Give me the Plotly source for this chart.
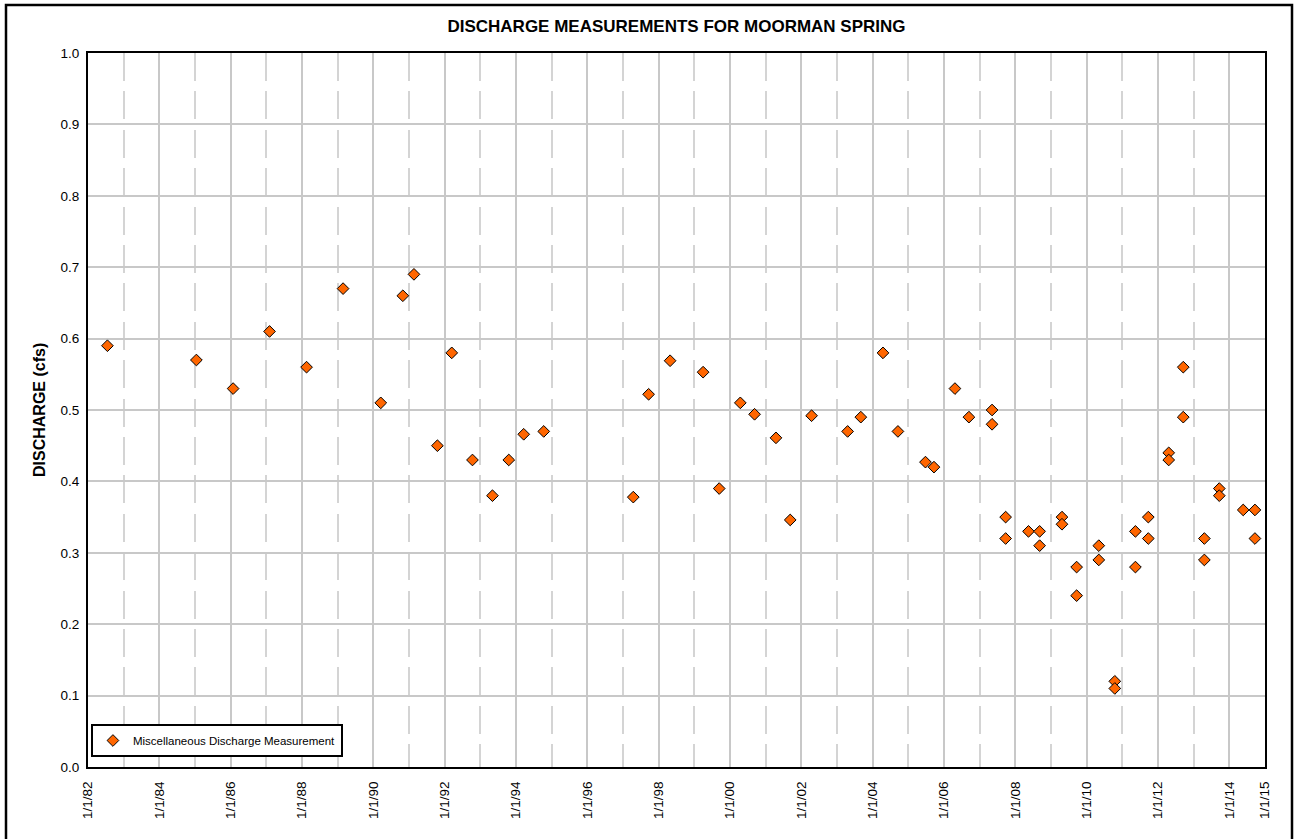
import plotly.graph_objects as go

# Miscellaneous discharge measurements, Moorman Spring
dates = [
    "1982-07-19", "1985-01-15", "1986-01-26", "1987-02-03", "1988-02-17",
    "1989-02-25", "1990-03-18", "1990-10-30", "1991-02-21", "1991-10-19",
    "1992-03-14", "1992-10-12", "1993-05-05", "1993-10-19", "1994-03-21",
    "1994-10-12", "1997-04-16", "1997-09-20", "1998-04-28", "1999-04-01",
    "1999-09-13", "2000-04-16", "2000-09-09", "2001-04-16", "2001-09-09",
    "2002-04-16", "2003-04-20", "2003-09-02", "2004-04-16", "2004-09-16",
    "2005-06-25", "2005-09-20", "2006-04-23", "2006-09-13", "2007-05-08",
    "2007-05-08", "2007-09-24", "2007-09-24", "2008-05-15", "2008-09-06",
    "2008-09-06", "2009-04-23", "2009-04-23", "2009-09-20", "2009-09-20",
    "2010-05-05", "2010-05-05", "2010-10-16", "2010-10-16", "2011-05-15",
    "2011-05-15", "2011-09-24", "2011-09-24", "2012-04-20", "2012-04-20",
    "2012-09-16", "2012-09-16", "2013-04-20", "2013-04-20", "2013-09-20",
    "2013-09-20", "2014-05-23", "2014-09-20", "2014-09-20",
]
discharge = [
    0.59, 0.57, 0.53, 0.61, 0.56,
    0.67, 0.51, 0.66, 0.69, 0.45,
    0.58, 0.43, 0.38, 0.43, 0.466,
    0.47, 0.378, 0.522, 0.569, 0.553,
    0.39, 0.51, 0.494, 0.461, 0.346,
    0.492, 0.47, 0.49, 0.58, 0.47,
    0.427, 0.42, 0.53, 0.49, 0.50,
    0.48, 0.35, 0.32, 0.33, 0.33,
    0.31, 0.35, 0.34, 0.28, 0.24,
    0.31, 0.29, 0.12, 0.11, 0.33,
    0.28, 0.35, 0.32, 0.44, 0.43,
    0.56, 0.49, 0.32, 0.29, 0.39,
    0.38, 0.36, 0.36, 0.32,
]

# Axis ticks: labelled years plus dashed minor grid on odd years
major_tick_dates = [f"{y}-01-01" for y in range(1982, 2015, 2)] + ["2015-01-01"]
major_tick_text = [f"1/1/{str(y)[-2:]}" for y in range(1982, 2015, 2)] + ["1/1/15"]
minor_tick_dates = [f"{y}-01-01" for y in range(1983, 2015, 2)]
y_ticks = [round(0.1 * i, 1) for i in range(11)]
y_tick_text = [f"{v:.1f}" for v in y_ticks]

FONT = "Arial, Liberation Sans, sans-serif"

fig = go.Figure()
fig.add_trace(go.Scatter(
    x=dates,
    y=discharge,
    mode="markers",
    name="Miscellaneous Discharge Measurement",
    marker=dict(symbol="diamond", size=9, color="#FF6600",
                line=dict(color="#000000", width=1)),
))

fig.update_layout(
    width=1297,
    height=839,
    margin=dict(l=88, r=32, t=53, b=72),
    paper_bgcolor="white",
    plot_bgcolor="white",
    font=dict(family=FONT, color="#000000", size=12),
    title=dict(
        text="<b>DISCHARGE MEASUREMENTS FOR MOORMAN SPRING</b>",
        font=dict(family=FONT, size=17, color="#000000"),
        x=0.5, xref="paper", xanchor="center",
        y=1 - 26 / 839, yref="container", yanchor="middle",
    ),
    showlegend=True,
    legend=dict(
        x=0.0025, y=0.014, xanchor="left", yanchor="bottom",
        bgcolor="white", bordercolor="#000000", borderwidth=2,
        font=dict(family=FONT, size=11.5, color="#000000"),
        tracegroupgap=0, itemwidth=30,
    ),
    xaxis=dict(
        type="date",
        range=["1982-01-01", "2015-01-01"],
        tickmode="array",
        tickvals=major_tick_dates,
        ticktext=major_tick_text,
        tickangle=-90,
        tickfont=dict(family=FONT, size=13.5),
        ticks="outside", ticklen=7, tickcolor="rgba(0,0,0,0)",
        showgrid=True, gridcolor="#c8c8c8", gridwidth=2,
        minor=dict(tickvals=minor_tick_dates, showgrid=True,
                   gridcolor="#d4d4d4", gridwidth=1.5,
                   griddash="28px,10.4px"),
        showline=True, linecolor="#000000", linewidth=2, mirror=True,
        zeroline=False,
    ),
    yaxis=dict(
        range=[0, 1.0],
        tickmode="array",
        tickvals=y_ticks,
        ticktext=y_tick_text,
        tickfont=dict(family=FONT, size=13.5),
        ticks="outside", ticklen=4, tickcolor="rgba(0,0,0,0)",
        showgrid=True, gridcolor="#c8c8c8", gridwidth=2,
        showline=True, linecolor="#000000", linewidth=2, mirror=True,
        zeroline=False,
    ),
    annotations=[
        dict(
            text="<b>DISCHARGE (cfs)</b>",
            textangle=-90,
            x=(39 - 88) / 1177, xref="paper", xanchor="center",
            y=0.5, yref="paper", yanchor="middle",
            showarrow=False,
            font=dict(family=FONT, size=16, color="#000000"),
        )
    ],
    shapes=[
        # outer frame around the whole chart
        dict(type="rect", xref="paper", yref="paper",
             x0=(6 - 88) / 1177, x1=(1292 - 88) / 1177,
             y0=(767 - 860) / 714, y1=(767 - 5) / 714,
             line=dict(color="#000000", width=2.5),
             fillcolor="rgba(0,0,0,0)", layer="above"),
    ],
)

fig.write_html("out.html")
